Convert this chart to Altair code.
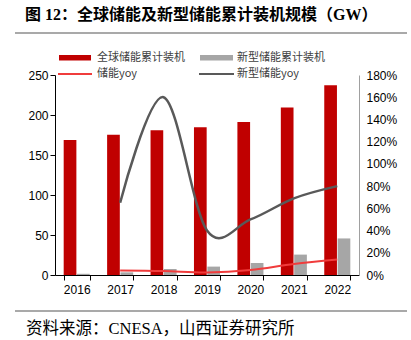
import altair as alt
import pandas as pd

years = ["2016", "2017", "2018", "2019", "2020", "2021", "2022"]
global_cum = [168.7, 175.4, 180.9, 184.6, 191.1, 209.4, 237.2]
new_cum = [1.5, 3.3, 7.5, 10.5, 15.0, 25.5, 45.7]
yoy_all = [None, 0.04, 0.035, 0.022, 0.045, 0.10, 0.14]
yoy_new = [None, 0.65, 1.60, 0.40, 0.50, 0.69, 0.80]

bar_names = ["全球储能累计装机", "新型储能累计装机"]
line_names = ["储能yoy", "新型储能yoy"]
bar_colors = ["#C00000", "#A6A6A6"]
line_colors = ["#F03C3C", "#595959"]

title_text = "图 12：全球储能及新型储能累计装机规模（GW）"
source_text = "资料来源：CNESA，山西证券研究所"

bars_df = pd.DataFrame(
    [{"year": y, "series": bar_names[0], "value": v} for y, v in zip(years, global_cum)]
    + [{"year": y, "series": bar_names[1], "value": v} for y, v in zip(years, new_cum)]
)
yoy_all_df = pd.DataFrame({"year": years, "yoy": yoy_all}).dropna()
yoy_new_df = pd.DataFrame({"year": years, "yoy": yoy_new}).dropna()

xscale = alt.Scale(domain=years, paddingInner=0.4, paddingOuter=0.2)
x_enc = alt.X("year:N", scale=xscale, sort=years,
              axis=alt.Axis(title=None, labelAngle=0, tickBand="extent", tickSize=5,
                            tickColor="black", domainColor="black", labelPadding=4))

bars = alt.Chart(bars_df).mark_bar().encode(
    x=x_enc,
    xOffset=alt.XOffset("series:N", sort=bar_names, scale=alt.Scale(paddingInner=0.05)),
    y=alt.Y("value:Q", scale=alt.Scale(domain=[0, 250]),
            axis=alt.Axis(title=None, values=[0, 50, 100, 150, 200, 250], grid=False,
                          tickSize=5, tickColor="black", domainColor="black", labelPadding=2)),
    color=alt.Color("series:N", scale=alt.Scale(domain=bar_names, range=bar_colors), legend=None),
)

yscale_r = alt.Scale(domain=[0, 1.8])
line_new = alt.Chart(yoy_new_df).mark_line(interpolate="cardinal", color=line_colors[1], strokeWidth=2.5).encode(
    x=x_enc,
    y=alt.Y("yoy:Q", scale=yscale_r,
            axis=alt.Axis(title=None, orient="right", format=".0%",
                          values=[0, 0.2, 0.4, 0.6, 0.8, 1.0, 1.2, 1.4, 1.6, 1.8],
                          grid=False, ticks=False, domainColor="#A0A0A0", labelPadding=7)),
)
line_all = alt.Chart(yoy_all_df).mark_line(interpolate="cardinal", color=line_colors[0], strokeWidth=2).encode(
    x=x_enc,
    y=alt.Y("yoy:Q", scale=yscale_r, axis=None),
)

one = alt.Data(values=[{"a": 0}])
serif_cjk = "Liberation Serif, Noto Sans CJK SC"

title = alt.Chart(one).mark_text(align="left", baseline="middle", fontSize=16,
                                 font=serif_cjk, fontWeight="bold", color="black").encode(
    x=alt.value(-30), y=alt.value(-60), text=alt.value(title_text))
title_rule = alt.Chart(one).mark_rule(color="#8C8C8C", strokeWidth=1.5).encode(
    x=alt.value(-40), x2=alt.value(352), y=alt.value(-42))
foot_rule = alt.Chart(one).mark_rule(color="#8C8C8C", strokeWidth=1.5).encode(
    x=alt.value(-40), x2=alt.value(352), y=alt.value(236))
footer = alt.Chart(one).mark_text(align="left", baseline="middle", fontSize=16.5,
                                  font=serif_cjk, color="black").encode(
    x=alt.value(-29), y=alt.value(254), text=alt.value(source_text))

leg_font = "Noto Sans CJK SC"
leg = []
rect_x = [(4, 36), (145, 178)]
text_x = [42, 182]
for i in range(2):
    leg.append(alt.Chart(one).mark_rect(color=bar_colors[i]).encode(
        x=alt.value(rect_x[i][0]), x2=alt.value(rect_x[i][1]), y=alt.value(-20), y2=alt.value(-14.5)))
    leg.append(alt.Chart(one).mark_text(align="left", baseline="middle", fontSize=11,
                                        font=leg_font, color="#404040").encode(
        x=alt.value(text_x[i]), y=alt.value(-17.5), text=alt.value(bar_names[i])))
    leg.append(alt.Chart(one).mark_rule(color=line_colors[i], strokeWidth=2).encode(
        x=alt.value(rect_x[i][0] - 1), x2=alt.value(rect_x[i][1] + 1), y=alt.value(-1)))
    leg.append(alt.Chart(one).mark_text(align="left", baseline="middle", fontSize=11,
                                        font=leg_font, color="#404040").encode(
        x=alt.value(text_x[i]), y=alt.value(-1), text=alt.value(line_names[i])))

chart = alt.layer(bars, line_new, line_all, title, title_rule, foot_rule, footer, *leg).resolve_scale(
    y="independent"
).properties(
    width=304, height=200,
    autosize=alt.AutoSizeParams(type="none"),
    padding={"left": 55, "top": 75, "right": 52, "bottom": 65},
).configure_view(stroke=None).configure_axis(
    labelFont="Liberation Sans", labelFontSize=12, labelColor="black"
)

chart.save("out.html", embed_options={"renderer": "svg", "actions": False})
